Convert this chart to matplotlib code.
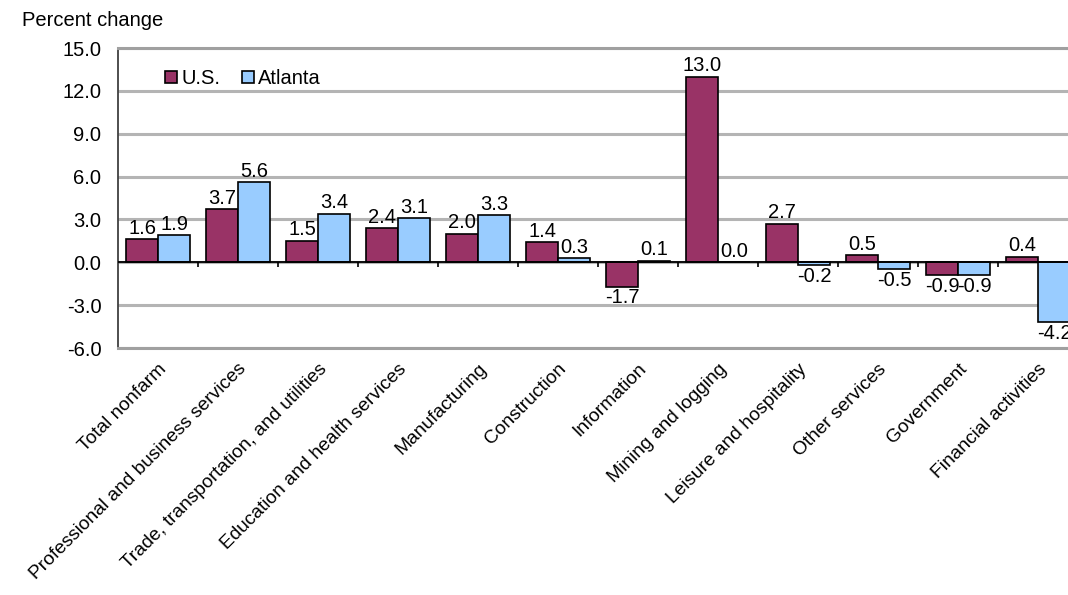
import numpy as np
import matplotlib.pyplot as plt

plt.rcParams['font.family'] = ['Liberation Sans', 'DejaVu Sans']

# data
categories = ["Total nonfarm", "Professional and business services",
              "Trade, transportation, and utilities", "Education and health services",
              "Manufacturing", "Construction", "Information", "Mining and logging",
              "Leisure and hospitality", "Other services", "Government",
              "Financial activities"]
us_values = [1.6, 3.7, 1.5, 2.4, 2.0, 1.4, -1.7, 13.0, 2.7, 0.5, -0.9, 0.4]
atlanta_values = [1.9, 5.6, 3.4, 3.1, 3.3, 0.3, 0.1, 0.0, -0.2, -0.5, -0.9, -4.2]
y_ticks = [-6.0, -3.0, 0.0, 3.0, 6.0, 9.0, 12.0, 15.0]

us_color = "#993366"
atl_color = "#99ccff"
fs = 14.5

fig = plt.figure(figsize=(10.68, 5.95), dpi=100)
# axes runs off the right edge, as in the reference
ax = fig.add_axes([118 / 1068, 1 - 348 / 595, 960 / 1068, 300 / 595])

x = np.arange(len(categories))
w = 0.4
b1 = ax.bar(x - w / 2, us_values, w, color=us_color, edgecolor="black", linewidth=1.2,
            label="U.S.", zorder=3)
b2 = ax.bar(x + w / 2, atlanta_values, w, color=atl_color, edgecolor="black", linewidth=1.2,
            label="Atlanta", zorder=3)

for bars in (b1, b2):
    for r in bars:
        v = r.get_height()
        xc = r.get_x() + r.get_width() / 2
        if v >= 0:
            ax.text(xc, v + 0.1, f"{v:.1f}", ha="center", va="bottom", fontsize=fs)
        else:
            ax.text(xc, v - 0.1, f"{v:.1f}", ha="center", va="top", fontsize=fs)

ax.set_xlim(-0.5, len(categories) - 0.5)
ax.set_ylim(-6, 15)
ax.set_yticks(y_ticks)
ax.set_yticklabels([f"{t:.1f}" for t in y_ticks], fontsize=fs)
ax.yaxis.grid(True, color="#b4b4b4", linewidth=2.2, zorder=0)
ax.set_axisbelow(True)

# zero line with category tick marks
ax.axhline(0, color="black", linewidth=1.3, zorder=4)
ax.vlines(np.arange(len(categories)) + 0.5, -0.3, 0, color="black", linewidth=1.2, zorder=4)

ax.set_xticks(x)
ax.set_xticklabels(categories, rotation=45, ha="right", rotation_mode="anchor", fontsize=13.8)
ax.tick_params(axis="x", length=0, pad=9)
ax.tick_params(axis="y", length=0, pad=12)

for s in ("top", "bottom", "right"):
    ax.spines[s].set_color("#a0a0a0")
    ax.spines[s].set_linewidth(2.2)
ax.spines["left"].set_color("#404040")
ax.spines["left"].set_linewidth(1.3)

ax.legend(loc="upper left", bbox_to_anchor=(0.03, 0.99), ncol=2, frameon=False,
          fontsize=fs, handlelength=0.6, handleheight=0.6, handletextpad=0.2,
          columnspacing=1.1)

fig.text(22 / 1068, 1 - 20 / 595, "Percent change", fontsize=fs, va="center", ha="left")

fig.savefig("out.png", dpi=100)
